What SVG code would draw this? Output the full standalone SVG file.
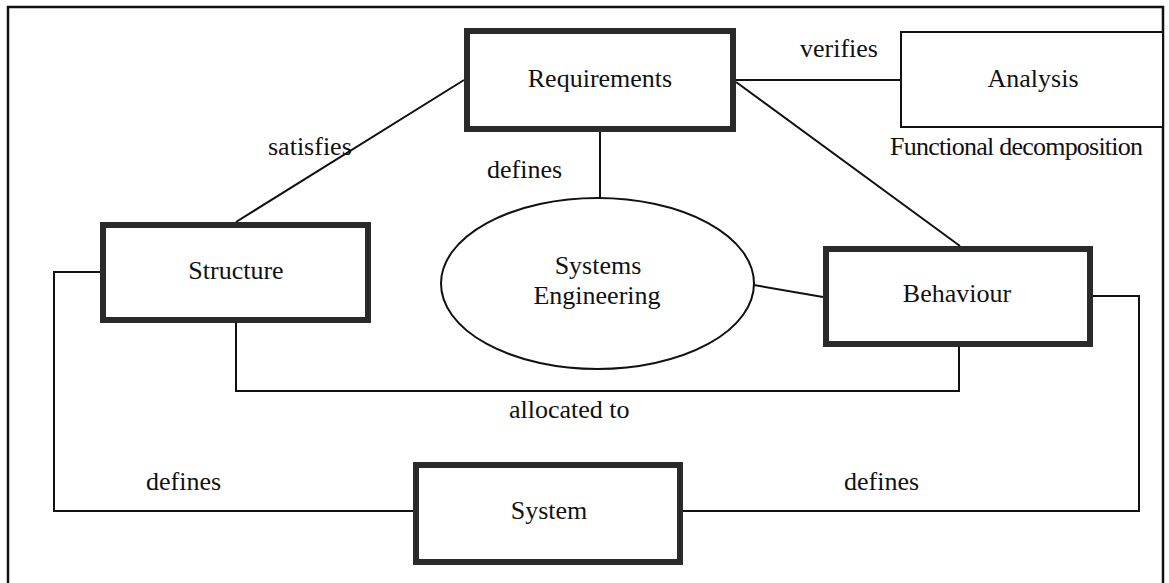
<svg xmlns="http://www.w3.org/2000/svg" width="1169" height="583" viewBox="0 0 1169 583">
<style>
.bg{fill:#fff}
.frame{fill:none;stroke:#111;stroke-width:2.5}
.thick{fill:#fff;stroke:#2a2a2a;stroke-width:6}
.thin{fill:#fff;stroke:#111;stroke-width:2}
.conn{fill:none;stroke:#111;stroke-width:2}
text{font-family:'Liberation Serif','DejaVu Serif','Times New Roman',Times,serif;font-size:26px;fill:#111}
.mid{text-anchor:middle}
</style>
<rect class="bg" x="0" y="0" width="1169" height="583"/>
<rect id="frame" class="frame" x="8" y="7" width="1155" height="600"/>
<g id="connectors" font-family="Liberation Serif, DejaVu Serif, serif">
<line class="conn" x1="236" y1="222" x2="464" y2="80"/>
<line class="conn" x1="736" y1="80" x2="901" y2="80"/>
<line class="conn" x1="736" y1="82" x2="960" y2="246"/>
<line class="conn" x1="600" y1="132" x2="600" y2="198"/>
<line class="conn" x1="754" y1="285" x2="823" y2="297"/>
<polyline class="conn" points="100,272 54,272 54,511 413,511"/>
<polyline class="conn" points="236,323 236,391 959,391 959,347"/>
<polyline class="conn" points="1093,296 1139,296 1139,511 683,511"/>
<text x="268" y="155">satisfies</text>
<text x="487" y="178">defines</text>
<text x="800" y="57">verifies</text>
<text x="890" y="155" textLength="253">Functional decomposition</text>
<text x="509" y="418">allocated to</text>
<text x="146" y="490">defines</text>
<text x="844" y="490">defines</text>
</g>
<g id="requirements">
<rect class="thick" x="467" y="31" width="266" height="98"/>
<text class="mid" x="600" y="87">Requirements</text>
</g>
<g id="analysis">
<rect class="thin" x="901" y="32" width="262" height="95"/>
<text class="mid" x="1033" y="87">Analysis</text>
</g>
<g id="structure">
<rect class="thick" x="103" y="225" width="265" height="95"/>
<text class="mid" x="236" y="279">Structure</text>
</g>
<g id="systems-engineering">
<ellipse class="thin" cx="597.5" cy="283.5" rx="156.5" ry="85.5"/>
<text class="mid" x="598" y="274">Systems</text>
<text class="mid" x="597" y="304">Engineering</text>
</g>
<g id="behaviour">
<rect class="thick" x="826" y="249" width="264" height="95"/>
<text class="mid" x="957" y="302">Behaviour</text>
</g>
<g id="system">
<rect class="thick" x="416" y="465" width="264" height="97"/>
<text class="mid" x="549" y="519">System</text>
</g>
</svg>
